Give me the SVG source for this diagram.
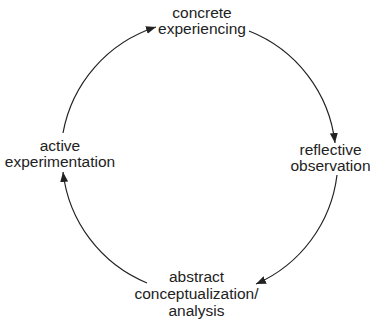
<svg xmlns="http://www.w3.org/2000/svg" width="370" height="322" viewBox="0 0 370 322">
<style>
.t{font-family:"Liberation Sans",Arial,sans-serif;font-size:15.5px;fill:#222;text-anchor:middle}
.c{fill:none;stroke:#222;stroke-width:1.2}
</style>
<defs>
<marker id="ah" viewBox="0 0 10 8" refX="10" refY="4" markerWidth="10" markerHeight="8" markerUnits="userSpaceOnUse" orient="auto">
<path d="M0,0 L10,4 L0,8 Z" fill="#222"/>
</marker>
</defs>
<rect width="370" height="322" fill="#fff"/>
<g id="connectors">
<path class="c" d="M63,133 A137,137 0 0 1 156,27" marker-end="url(#ah)"/>
<path class="c" d="M249,31 A137,137 0 0 1 335,143" marker-end="url(#ah)"/>
<path class="c" d="M337,175 A137,137 0 0 1 256,284" marker-end="url(#ah)"/>
<path class="c" d="M147,283 A137,137 0 0 1 63,172" marker-end="url(#ah)"/>
</g>
<g id="concrete"><text class="t" x="202" y="18">concrete</text><text class="t" x="202" y="34">experiencing</text></g>
<g id="reflective"><text class="t" x="330.5" y="155">reflective</text><text class="t" x="330.5" y="171">observation</text></g>
<g id="abstract"><text class="t" x="196.5" y="282">abstract</text><text class="t" x="196.5" y="299">conceptualization/</text><text class="t" x="196.5" y="316">analysis</text></g>
<g id="active"><text class="t" x="60" y="151">active</text><text class="t" x="60" y="167">experimentation</text></g>
</svg>
